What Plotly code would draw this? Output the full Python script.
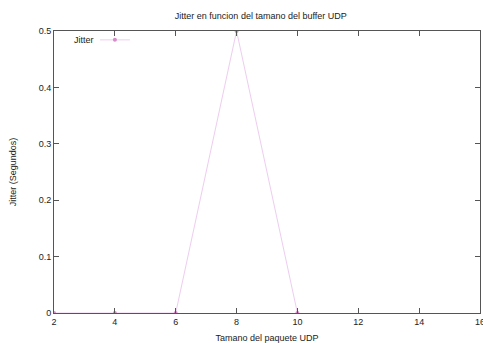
import plotly.graph_objects as go

# Data
packet_size = [2, 4, 6, 8, 10]
jitter = [0, 0, 0, 0.5, 0]
x_ticks = [2, 4, 6, 8, 10, 12, 14, 16]
y_ticks = [0, 0.1, 0.2, 0.3, 0.4, 0.5]

line_color = "rgb(238,205,240)"
marker_color = "rgb(215,140,200)"
font = dict(family="Liberation Sans, Arial, sans-serif", size=9, color="#222")

fig = go.Figure()
fig.add_trace(go.Scatter(
    x=packet_size, y=jitter, mode="lines+markers", name="",
    line=dict(color=line_color, width=1),
    marker=dict(color=marker_color, size=4),
    cliponaxis=True,
))

axis_common = dict(
    showgrid=False, zeroline=False, showline=True, linecolor="#555", linewidth=1,
    mirror="ticks", ticks="inside", ticklen=5, tickcolor="#555", tickwidth=1,
    tickfont=font, automargin=False,
)
fig.update_xaxes(range=[2, 16], tickvals=x_ticks, ticklabeloverflow="allow",
                 title=dict(text="Tamano del paquete UDP", font=font, standoff=9),
                 **axis_common)
fig.update_yaxes(range=[0, 0.5], tickvals=y_ticks,
                 ticktext=["0", "0.1", "0.2", "0.3", "0.4", "0.5"],
                 title=dict(text="Jitter (Segundos)", font=font, standoff=20),
                 **axis_common)

fig.update_layout(
    width=483, height=343,
    margin=dict(l=54, r=3, t=31, b=30),
    paper_bgcolor="white", plot_bgcolor="white",
    title=dict(text="Jitter en funcion del tamano del buffer UDP", font=font,
               x=0.54, xanchor="center", y=0.955, yanchor="middle"),
    showlegend=True,
    legend=dict(x=0.096, y=1.02, xanchor="left", yanchor="top",
                bgcolor="rgba(0,0,0,0)", font=font, itemwidth=30),
    annotations=[dict(text="Jitter", xref="paper", yref="paper",
                      x=0.0986, y=0.968, xanchor="right", yanchor="middle",
                      showarrow=False, font=font)],
    font=font,
)

fig.write_html("out.html")
